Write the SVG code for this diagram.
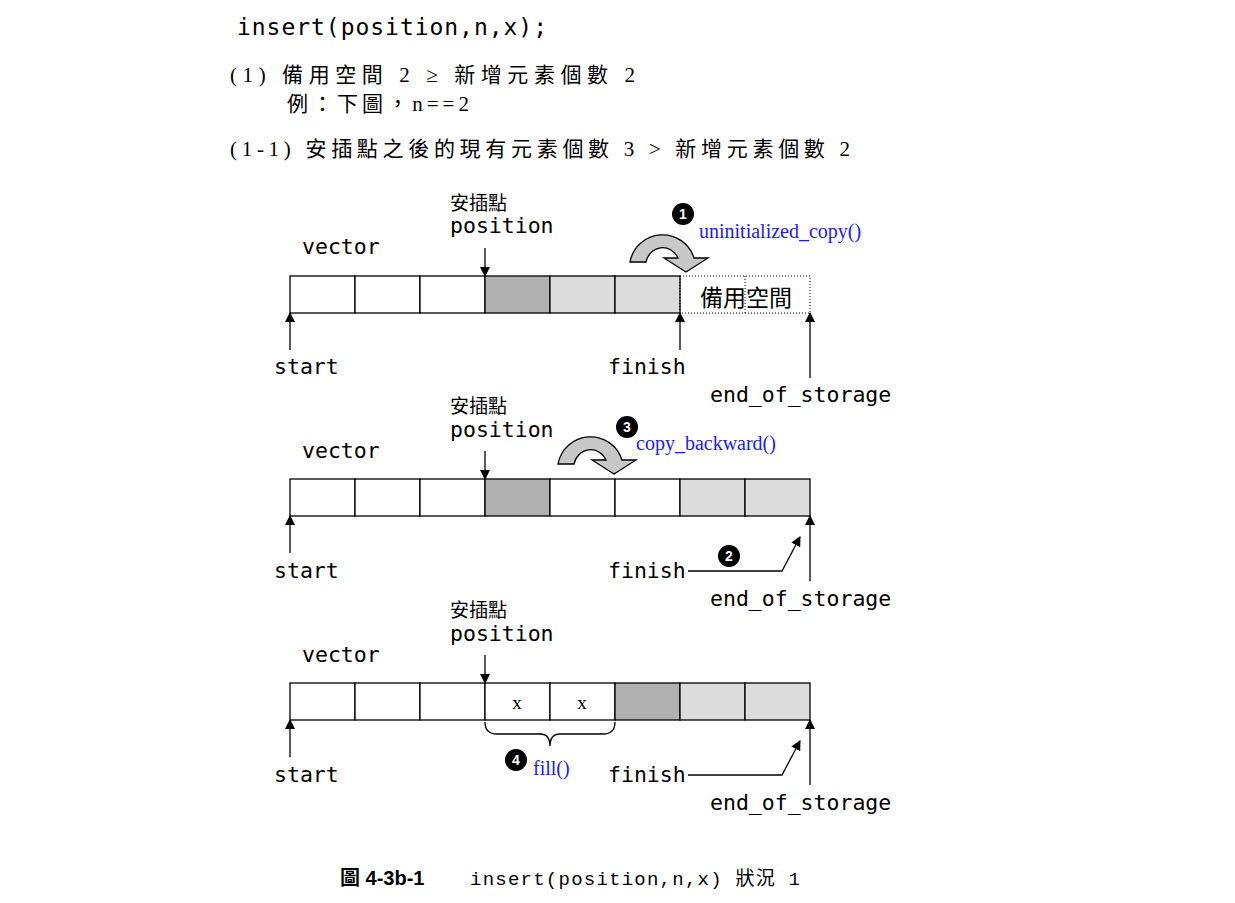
<svg xmlns="http://www.w3.org/2000/svg" width="1235" height="903" viewBox="0 0 1235 903">
<defs>
<style>
.c{fill:#fff;stroke:#000;stroke-width:1.3}
.d{fill:#b0b0b0;stroke:#000;stroke-width:1.3}
.l{fill:#dcdcdc;stroke:#000;stroke-width:1.3}
.m{font-family:"DejaVu Sans Mono","Liberation Mono",monospace;font-size:21.5px}
.z{font-family:"Liberation Serif","Noto Sans CJK TC",serif;font-size:21px}
.b{font-family:"Liberation Serif",serif;font-size:20px;fill:#1a1aff}
.ln{stroke:#000;stroke-width:1.3;fill:none}
.n{font-family:"Liberation Sans",sans-serif;font-weight:bold;font-size:14px;fill:#fff;text-anchor:middle}
.arc{fill:#c8c8c8;stroke:#000;stroke-width:1.3}
</style>
<marker id="a" markerWidth="10" markerHeight="10" refX="9" refY="5" orient="auto" markerUnits="userSpaceOnUse"><path d="M0,0 L10,5 L0,10 Z"/></marker>
<path id="ca" d="M630,262 A33,33 0 0 1 694,258 L708,258 L686,272 L664,258 L678,258 A17,18 0 0 0 646,262 Z"/>
</defs>
<text x="237" y="35" class="m" style="font-size:23px" textLength="310">insert(position,n,x);</text>
<text x="230" y="82" class="z" textLength="405">(1)  備用空間 2 ≥ 新增元素個數 2</text>
<text x="287" y="111" class="z" textLength="182">例：下圖，n==2</text>
<text x="230" y="156" class="z" textLength="620">(1-1) 安插點之後的現有元素個數 3 &gt; 新增元素個數 2</text>

<g id="row1">
<rect x="290" y="276" width="65" height="37" class="c"/><rect x="355" y="276" width="65" height="37" class="c"/><rect x="420" y="276" width="65" height="37" class="c"/>
<rect x="485" y="276" width="65" height="37" class="d"/><rect x="550" y="276" width="65" height="37" class="l"/><rect x="615" y="276" width="65" height="37" class="l"/>
<rect x="680" y="276" width="130" height="37" fill="none" stroke="#000" stroke-dasharray="1,2"/>
<line x1="745" y1="276" x2="745" y2="313" stroke="#000" stroke-dasharray="1,2"/>
<text x="700" y="306" class="z" style="font-size:23px">備用空間</text>
<text x="302" y="254" class="m">vector</text>
<text x="450" y="210" class="z" style="font-size:19px">安插點</text>
<text x="450" y="233" class="m">position</text>
<text x="274" y="374" class="m">start</text>
<text x="608" y="374" class="m">finish</text>
<text x="710" y="402" class="m">end_of_storage</text>
<use href="#ca" class="arc"/>
<circle cx="683" cy="214" r="11"/><text x="683" y="219" class="n">1</text>
<text x="699" y="238" class="b">uninitialized_copy()</text>
</g>

<g id="row2">
<rect x="290" y="479" width="65" height="37" class="c"/><rect x="355" y="479" width="65" height="37" class="c"/><rect x="420" y="479" width="65" height="37" class="c"/>
<rect x="485" y="479" width="65" height="37" class="d"/><rect x="550" y="479" width="65" height="37" class="c"/><rect x="615" y="479" width="65" height="37" class="c"/>
<rect x="680" y="479" width="65" height="37" class="l"/><rect x="745" y="479" width="65" height="37" class="l"/>
<text x="302" y="458" class="m">vector</text>
<text x="450" y="413" class="z" style="font-size:19px">安插點</text>
<text x="450" y="437" class="m">position</text>
<text x="274" y="578" class="m">start</text>
<text x="608" y="578" class="m">finish</text>
<text x="710" y="606" class="m">end_of_storage</text>
<use href="#ca" class="arc" transform="translate(-72,202)"/>
<circle cx="627" cy="427" r="11"/><text x="627" y="432" class="n">3</text>
<text x="636" y="450" class="b">copy_backward()</text>
<circle cx="729" cy="556" r="11"/><text x="729" y="561" class="n">2</text>
</g>

<g id="row3">
<rect x="290" y="683" width="65" height="37" class="c"/><rect x="355" y="683" width="65" height="37" class="c"/><rect x="420" y="683" width="65" height="37" class="c"/>
<rect x="485" y="683" width="65" height="37" class="c"/><rect x="550" y="683" width="65" height="37" class="c"/><rect x="615" y="683" width="65" height="37" class="d"/>
<rect x="680" y="683" width="65" height="37" class="l"/><rect x="745" y="683" width="65" height="37" class="l"/>
<text x="517" y="709" class="z" style="font-size:19px" text-anchor="middle">x</text>
<text x="582" y="709" class="z" style="font-size:19px" text-anchor="middle">x</text>
<text x="302" y="662" class="m">vector</text>
<text x="450" y="617" class="z" style="font-size:19px">安插點</text>
<text x="450" y="641" class="m">position</text>
<text x="274" y="782" class="m">start</text>
<text x="608" y="782" class="m">finish</text>
<text x="710" y="810" class="m">end_of_storage</text>
<path d="M485,722 Q485,734 497,734 L540,734 Q550,734 550,746 Q550,734 560,734 L603,734 Q615,734 615,722" class="ln"/>
<circle cx="516" cy="760" r="11"/><text x="516" y="765" class="n">4</text>
<text x="533" y="775" class="b">fill()</text>
</g>

<g id="connectors" class="ln" marker-end="url(#a)">
<line x1="485" y1="248" x2="485" y2="276"/>
<line x1="290" y1="350" x2="290" y2="313"/>
<line x1="680" y1="350" x2="680" y2="313"/>
<line x1="810" y1="378" x2="810" y2="313"/>
<line x1="485" y1="451" x2="485" y2="479"/>
<line x1="290" y1="553" x2="290" y2="516"/>
<line x1="810" y1="581" x2="810" y2="516"/>
<polyline points="688,571 782,571 800,537"/>
<line x1="485" y1="655" x2="485" y2="683"/>
<line x1="290" y1="757" x2="290" y2="720"/>
<line x1="810" y1="785" x2="810" y2="720"/>
<polyline points="688,775 782,775 800,741"/>
</g>

<text x="340" y="885" style="font-family:'Liberation Sans','Noto Sans CJK TC',sans-serif;font-weight:bold;font-size:20px">圖 4-3b-1</text>
<text x="470" y="885" style="font-family:'Liberation Mono','Noto Sans CJK TC',monospace;font-size:19px" textLength="330">insert(position,n,x) 狀況 1</text>
</svg>
